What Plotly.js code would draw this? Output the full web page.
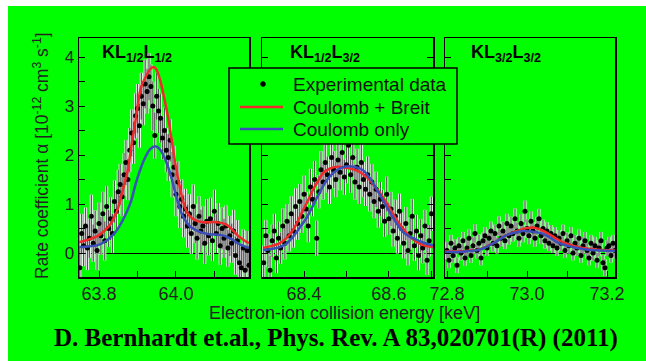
<!DOCTYPE html>
<html><head><meta charset="utf-8">
<script src="https://cdn.plot.ly/plotly-3.0.1.min.js"></script>
<style>html,body{margin:0;padding:0;background:#fff;overflow:hidden;} #chart{position:absolute;left:8px;top:6px;width:638px;height:355px;}</style>
</head><body><div id="chart"></div><script>
// ---- Panel 1: KL1/2L1/2 ----
const p1x = [63.750,63.755,63.760,63.765,63.770,63.775,63.780,63.785,63.790,63.795,63.800,63.805,63.810,63.815,63.820,63.825,63.830,63.835,63.840,63.845,63.850,63.855,63.860,63.865,63.870,63.875,63.880,63.885,63.890,63.895,63.900,63.905,63.910,63.915,63.920,63.925,63.930,63.935,63.940,63.945,63.950,63.955,63.960,63.965,63.970,63.975,63.980,63.985,63.990,63.995,64.000,64.005,64.010,64.015,64.020,64.025,64.030,64.035,64.040,64.045,64.050,64.055,64.060,64.065,64.070,64.075,64.080,64.085,64.090,64.095,64.100,64.105,64.110,64.115,64.120,64.125,64.130,64.135,64.140,64.145,64.150,64.155,64.160,64.165,64.170,64.175,64.180,64.185,64.190];
const p1y = [-0.30,0.40,0.15,0.55,0.10,0.30,0.75,0.20,0.45,0.05,
 0.60,0.35,0.80,0.25,0.95,0.50,0.70,0.40,1.05,0.85,
 1.25,1.40,1.15,1.60,1.85,1.50,2.10,2.45,2.25,2.80,
 2.95,2.60,3.20,3.05,3.45,3.30,3.60,3.40,3.00,2.40,
 3.20,2.90,2.75,2.35,2.50,2.10,1.95,2.30,1.60,1.75,
 1.20,1.45,0.95,1.10,0.75,0.90,0.55,0.80,0.40,0.95,
 0.60,0.30,0.75,0.45,0.55,0.20,0.65,0.35,0.70,0.25,
 0.85,0.40,0.60,0.15,0.50,0.30,0.55,0.10,0.35,0.20,
 0.45,-0.05,0.25,-0.20,-0.30,0.10,-0.35,0.05,-0.25];
const p1e = [0.45,0.40,0.42,0.38,0.45,0.40,0.44,0.38,0.42,0.40,
 0.43,0.39,0.45,0.40,0.42,0.38,0.44,0.40,0.43,0.41,
 0.45,0.42,0.40,0.44,0.46,0.42,0.45,0.48,0.43,0.46,
 0.50,0.45,0.48,0.44,0.50,0.46,0.48,0.45,0.50,0.47,
 0.48,0.45,0.50,0.44,0.47,0.45,0.48,0.43,0.46,0.44,
 0.45,0.42,0.44,0.40,0.43,0.41,0.44,0.40,0.42,0.45,
 0.40,0.43,0.41,0.44,0.40,0.42,0.45,0.40,0.43,0.41,
 0.44,0.40,0.42,0.39,0.43,0.40,0.42,0.38,0.41,0.40,
 0.43,0.39,0.42,0.40,0.44,0.38,0.42,0.40,0.41];
const red1x = [63.748,63.775,63.797,63.815,63.831,63.840,63.849,63.862,63.875,63.883,63.896,63.909,63.925,63.935,63.942,63.950,63.960,63.970,63.980,63.990,64.000,64.010,64.020,64.030,64.042,64.056,64.070,64.090,64.107,64.120,64.133,64.146,64.159,64.175,64.190];
const red1y = [0.22,0.28,0.35,0.46,0.60,0.74,0.90,1.29,1.70,2.12,2.76,3.37,3.65,3.77,3.80,3.74,3.50,3.15,2.75,2.25,1.75,1.35,1.02,0.82,0.71,0.65,0.63,0.63,0.63,0.61,0.57,0.48,0.37,0.27,0.20];
const blue1x = [63.748,63.775,63.797,63.815,63.831,63.845,63.857,63.870,63.883,63.895,63.908,63.920,63.933,63.946,63.958,63.970,63.985,64.000,64.015,64.030,64.042,64.056,64.070,64.090,64.115,64.133,64.148,64.165,64.190];
const blue1y = [0.12,0.14,0.16,0.23,0.33,0.45,0.60,0.80,1.05,1.40,1.72,1.95,2.12,2.18,2.12,1.95,1.63,1.18,0.80,0.60,0.51,0.45,0.41,0.38,0.37,0.33,0.27,0.18,0.10];

// ---- Panel 2: KL1/2L3/2 ----
const p2x = [68.305,68.310,68.315,68.320,68.325,68.330,68.335,68.340,68.345,68.350,68.355,68.360,68.365,68.370,68.375,68.380,68.385,68.390,68.395,68.400,68.405,68.410,68.415,68.420,68.425,68.430,68.435,68.440,68.445,68.450,68.455,68.460,68.465,68.470,68.475,68.480,68.485,68.490,68.495,68.500,68.505,68.510,68.515,68.520,68.525,68.530,68.535,68.540,68.545,68.550,68.555,68.560,68.565,68.570,68.575,68.580,68.585,68.590,68.595,68.600,68.605,68.610,68.615,68.620,68.625,68.630,68.635,68.640,68.645,68.650,68.655,68.660,68.665,68.670,68.675,68.680,68.685,68.690,68.695,68.700];
const p2y = [-0.20,0.35,0.05,-0.35,0.25,0.45,-0.10,0.30,0.10,0.55,
 0.20,0.65,0.35,0.80,0.45,0.95,0.60,1.05,0.75,1.20,
 0.90,0.55,1.35,1.10,1.50,0.30,1.25,1.70,1.45,1.85,
 1.60,1.35,1.95,1.70,1.50,1.90,1.65,2.05,1.55,1.80,
 2.20,1.60,1.95,1.45,1.75,1.35,1.85,1.50,1.30,1.60,
 1.20,1.45,1.05,1.30,0.85,1.10,0.95,0.65,1.20,0.70,
 0.90,0.45,0.75,0.30,0.85,0.50,0.20,0.60,0.05,0.40,
 0.75,0.15,0.45,-0.05,0.35,0.10,0.55,-0.15,0.25,0.80];
const p2e = [0.35,0.32,0.34,0.30,0.33,0.35,0.31,0.34,0.32,0.36,
 0.33,0.35,0.32,0.36,0.34,0.37,0.33,0.36,0.34,0.38,
 0.35,0.33,0.37,0.35,0.38,0.36,0.34,0.38,0.36,0.40,
 0.37,0.35,0.40,0.38,0.36,0.39,0.37,0.45,0.36,0.38,
 0.42,0.37,0.39,0.36,0.38,0.35,0.39,0.36,0.34,0.37,
 0.35,0.37,0.34,0.36,0.33,0.35,0.34,0.32,0.36,0.33,
 0.35,0.32,0.34,0.31,0.36,0.33,0.31,0.34,0.30,0.33,
 0.35,0.31,0.33,0.30,0.34,0.31,0.33,0.30,0.32,0.35];
const red2x = [68.303,68.323,68.343,68.358,68.374,68.386,68.398,68.410,68.421,68.433,68.445,68.460,68.478,68.500,68.525,68.548,68.567,68.586,68.603,68.619,68.635,68.650,68.665,68.681,68.704];
const red2y = [0.10,0.14,0.20,0.30,0.47,0.66,0.88,1.08,1.29,1.47,1.63,1.72,1.76,1.74,1.68,1.55,1.36,1.14,0.90,0.67,0.48,0.33,0.23,0.16,0.12];
const blue2x = [68.303,68.323,68.343,68.358,68.374,68.390,68.407,68.419,68.431,68.442,68.454,68.470,68.485,68.505,68.522,68.539,68.556,68.572,68.588,68.603,68.618,68.633,68.650,68.666,68.685,68.704];
const blue2y = [0.06,0.08,0.12,0.19,0.33,0.52,0.73,0.93,1.14,1.32,1.49,1.64,1.73,1.77,1.75,1.69,1.52,1.29,1.05,0.82,0.61,0.43,0.33,0.27,0.20,0.16];

// ---- Panel 3: KL3/2L3/2 ----
const p3x = [72.800,72.805,72.810,72.815,72.820,72.825,72.830,72.835,72.840,72.845,72.850,72.855,72.860,72.865,72.870,72.875,72.880,72.885,72.890,72.895,72.900,72.905,72.910,72.915,72.920,72.925,72.930,72.935,72.940,72.945,72.950,72.955,72.960,72.965,72.970,72.975,72.980,72.985,72.990,72.995,73.000,73.005,73.010,73.015,73.020,73.025,73.030,73.035,73.040,73.045,73.050,73.055,73.060,73.065,73.070,73.075,73.080,73.085,73.090,73.095,73.100,73.105,73.110,73.115,73.120,73.125,73.130,73.135,73.140,73.145,73.150,73.155,73.160,73.165,73.170,73.175,73.180,73.185,73.190,73.195,73.200,73.205,73.210,73.215,73.220];
const p3y = [0.05,-0.15,0.20,-0.05,0.10,-0.25,0.15,0.00,0.25,-0.10,
 0.10,0.30,-0.05,0.15,0.40,0.05,0.20,-0.10,0.25,0.35,
 0.10,0.30,0.45,0.20,0.40,0.15,0.55,0.30,0.45,0.25,
 0.60,0.35,0.55,0.40,0.70,0.45,0.30,0.60,0.40,0.85,
 0.50,0.35,0.65,0.45,0.30,0.55,0.70,0.35,0.50,0.25,
 0.45,0.20,0.40,0.15,0.35,0.10,0.30,0.20,0.40,0.05,
 0.25,0.15,0.35,0.00,0.20,0.10,0.30,-0.05,0.15,0.25,
 0.05,-0.10,0.20,0.00,0.15,-0.15,0.10,0.25,-0.20,-0.30,
 0.10,0.15,-0.05,0.20,0.05];
const p3e = [0.18,0.16,0.17,0.15,0.18,0.16,0.17,0.15,0.18,0.16,
 0.17,0.18,0.15,0.17,0.19,0.16,0.18,0.15,0.17,0.18,
 0.16,0.18,0.19,0.17,0.18,0.16,0.20,0.17,0.19,0.17,
 0.20,0.18,0.19,0.17,0.21,0.18,0.17,0.19,0.18,0.22,
 0.19,0.17,0.20,0.18,0.17,0.19,0.20,0.17,0.18,0.16,
 0.18,0.16,0.17,0.15,0.18,0.16,0.17,0.16,0.18,0.15,
 0.17,0.16,0.18,0.15,0.17,0.16,0.18,0.15,0.17,0.18,
 0.16,0.15,0.17,0.16,0.18,0.15,0.17,0.18,0.16,0.17,
 0.16,0.18,0.15,0.17,0.16];
const red3x = [72.795,72.830,72.860,72.883,72.900,72.920,72.940,72.962,72.983,73.000,73.015,73.033,73.050,73.070,73.090,73.115,73.140,73.170,73.220];
const red3y = [0.03,0.03,0.05,0.08,0.14,0.22,0.33,0.41,0.47,0.51,0.52,0.48,0.41,0.31,0.22,0.15,0.10,0.07,0.05];
const blue3x = [72.795,72.830,72.860,72.883,72.900,72.920,72.950,72.970,72.990,73.010,73.033,73.055,73.075,73.100,73.125,73.160,73.220];
const blue3y = [0.02,0.02,0.04,0.07,0.13,0.22,0.37,0.42,0.45,0.44,0.41,0.33,0.22,0.15,0.10,0.06,0.04];

const panelTitles = ['KL<sub>1/2</sub>L<sub>1/2</sub>','KL<sub>1/2</sub>L<sub>3/2</sub>','KL<sub>3/2</sub>L<sub>3/2</sub>'];
const legendNames = ['Experimental data','Coulomb + Breit','Coulomb only'];
const xTitle = 'Electron-ion collision energy [keV]';
const yTitle = 'Rate coefficient α [10<sup>-12</sup> cm<sup>3</sup> s<sup>-1</sup>]';
const citation = 'D. Bernhardt et.al., Phys. Rev. A 83,020701(R) (2011)';

const GREEN = '#00ff00', RED = '#f02a2a', BLUE = '#3a4fb8';
const FONT = 'Liberation Sans, Arial, sans-serif';

const panels = [
  {x:p1x,y:p1y,e:p1e,rx:red1x,ry:red1y,bx:blue1x,by:blue1y,xa:'x',ya:'y'},
  {x:p2x,y:p2y,e:p2e,rx:red2x,ry:red2y,bx:blue2x,by:blue2y,xa:'x2',ya:'y2'},
  {x:p3x,y:p3y,e:p3e,rx:red3x,ry:red3y,bx:blue3x,by:blue3y,xa:'x3',ya:'y3'}
];
const traces = [];
panels.forEach((p,i)=>{
  traces.push({x:p.x,y:p.y,xaxis:p.xa,yaxis:p.ya,type:'scatter',mode:'markers',showlegend:false,hoverinfo:'skip',
    marker:{size:1,color:'rgba(0,0,0,0)'},
    error_y:{type:'data',array:p.e,visible:true,color:'#ffffff',thickness:3,width:0}});
  traces.push({x:p.x,y:p.y,xaxis:p.xa,yaxis:p.ya,type:'scatter',mode:'markers',showlegend:false,
    marker:{size:5,color:'#000'},
    error_y:{type:'data',array:p.e,visible:true,color:'#555555',thickness:1.3,width:0}});
});
panels.forEach((p,i)=>{
  traces.push({x:p.rx,y:p.ry,xaxis:p.xa,yaxis:p.ya,type:'scatter',mode:'lines',name:legendNames[1],showlegend:false,
    line:{color:RED,width:2.5,shape:'spline',smoothing:0.8}});
});
panels.forEach((p,i)=>{
  traces.push({x:p.bx,y:p.by,xaxis:p.xa,yaxis:p.ya,type:'scatter',mode:'lines',name:legendNames[2],showlegend:false,
    line:{color:BLUE,width:2.5,shape:'spline',smoothing:0.8}});
});

const W=638,H=355;
const px=v=>v/W, py=v=>1-v/H;
const yDom=[py(271), py(32)];
function xax(dom,range){
  return {domain:dom,range:range,showline:true,mirror:true,linecolor:'#000',linewidth:1.5,
    ticks:'inside',ticklen:6,tickwidth:1,tickcolor:'#000',dtick:0.2,tick0:0,tickformat:'.1f',
    minor:{dtick:0.1,ticks:'inside',ticklen:6,tickcolor:'#000'},
    showgrid:false,zeroline:false,tickfont:{family:FONT,size:18,color:'#222'}};
}
function yax(anchor,labels,mirror){
  return {domain:yDom,range:[-0.49,4.39],anchor:anchor,showline:true,mirror:mirror,linecolor:'#000',linewidth:1.5,
    ticks:'inside',ticklen:6,tickwidth:1,tickcolor:'#000',dtick:1,tick0:0,showticklabels:labels,
    minor:{dtick:0.5,ticks:'inside',ticklen:6,tickcolor:'#000'},
    showgrid:false,zeroline:true,zerolinecolor:'#000',zerolinewidth:1,
    tickfont:{family:FONT,size:17,color:'#222'}};
}
// manual legend box (div coordinates)
const LG = {x0:221,x1:449,y0:62,y1:138,rows:[78,101,123],sym:255,l0:232,l1:275,tx:283};
const shapes = [
  {type:'rect',xref:'paper',yref:'paper',x0:px(LG.x0),x1:px(LG.x1),y0:py(LG.y1),y1:py(LG.y0),
   fillcolor:GREEN,line:{color:'#000',width:1.5},layer:'above'},
  {type:'circle',xref:'paper',yref:'paper',x0:px(LG.sym-2.5),x1:px(LG.sym+2.5),y0:py(LG.rows[0]+2.5),y1:py(LG.rows[0]-2.5),
   fillcolor:'#000',line:{color:'#000',width:0.5},layer:'above'},
  {type:'line',xref:'paper',yref:'paper',x0:px(LG.l0),x1:px(LG.l1),y0:py(LG.rows[1]),y1:py(LG.rows[1]),line:{color:RED,width:2.5},layer:'above'},
  {type:'line',xref:'paper',yref:'paper',x0:px(LG.l0),x1:px(LG.l1),y0:py(LG.rows[2]),y1:py(LG.rows[2]),line:{color:BLUE,width:2.5},layer:'above'}
];
const legendAnn = legendNames.map((n,i)=>({text:n,xref:'paper',yref:'paper',x:px(LG.tx),y:py(LG.rows[i]),xanchor:'left',yanchor:'middle',
  showarrow:false,font:{family:FONT,size:19,color:'#111'}}));

const layout = {
  width:W,height:H,autosize:false,margin:{l:0,r:0,t:0,b:0},
  paper_bgcolor:GREEN,plot_bgcolor:'rgba(0,0,0,0)',
  font:{family:FONT,color:'#111'},
  xaxis:Object.assign(xax([px(71),px(241)],[63.748,64.19]),{anchor:'y'}),
  xaxis2:Object.assign(xax([px(254),px(425)],[68.301,68.704]),{anchor:'y2'}),
  xaxis3:Object.assign(xax([px(437),px(607)],[72.795,73.22]),{anchor:'y3'}),
  yaxis:yax('x',true,true),
  yaxis2:yax('x2',false,'ticks'),
  yaxis3:yax('x3',false,true),
  showlegend:false,
  shapes:shapes,
  annotations:[
    {text:'<b>'+panelTitles[0]+'</b>',xref:'paper',yref:'paper',x:px(92),y:py(47),xanchor:'left',yanchor:'middle',showarrow:false,font:{family:FONT,size:18,color:'#000'}},
    {text:'<b>'+panelTitles[1]+'</b>',xref:'paper',yref:'paper',x:px(280),y:py(47),xanchor:'left',yanchor:'middle',showarrow:false,font:{family:FONT,size:18,color:'#000'}},
    {text:'<b>'+panelTitles[2]+'</b>',xref:'paper',yref:'paper',x:px(461),y:py(47),xanchor:'left',yanchor:'middle',showarrow:false,font:{family:FONT,size:18,color:'#000'}},
    {text:yTitle,xref:'paper',yref:'paper',x:px(33),y:py(150),xanchor:'center',yanchor:'middle',textangle:-90,showarrow:false,font:{family:FONT,size:17.5,color:'#222'}},
    {text:xTitle,xref:'paper',yref:'paper',x:px(336),y:py(307),xanchor:'center',yanchor:'middle',showarrow:false,font:{family:FONT,size:18,color:'#222'}},
    {text:'<b>'+citation+'</b>',xref:'paper',yref:'paper',x:px(328),y:py(332),xanchor:'center',yanchor:'middle',showarrow:false,font:{family:'Liberation Serif, Times New Roman, serif',size:25,color:'#000'}}
  ].concat(legendAnn)
};
Plotly.newPlot('chart',traces,layout,{displayModeBar:false,staticPlot:true});
</script></body></html>
